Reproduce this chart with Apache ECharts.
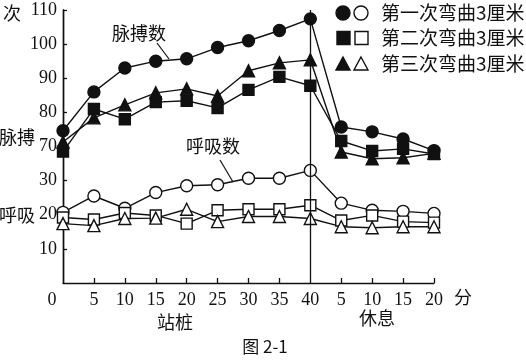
<!DOCTYPE html>
<html><head><meta charset="utf-8">
<script src="https://cdn.jsdelivr.net/npm/echarts@6/dist/echarts.min.js"></script>
<style>html,body{margin:0;padding:0;background:#fff}#c{width:526px;height:360px}</style>
</head><body><div id="c"></div>
<script>
const categories = ['0','5','10','15','20','25','30','35','40','r5','r10','r15','r20'];
const xTickLabels = ['0','5','10','15','20','25','30','35','40','5','10','15','20'];
const pulse1 = [74.6, 86, 93, 95, 95.7, 99, 101, 104, 107.4, 75.7, 74.3, 72.2, 68.8];
const pulse2 = [68.5, 81, 78, 83, 83.4, 81.3, 86.6, 90.4, 87.8, 71.6, 68.7, 69.3, 67.8];
const pulse3 = [71.3, 78.4, 82.2, 85.7, 86.9, 84.8, 92.2, 94.5, 95.4, 68.4, 66.4, 66.7, 68];
const resp1 = [20.7, 25.5, 21.9, 26.5, 28.5, 28.8, 30.7, 30.7, 33, 23.4, 21.3, 21, 20.4];
const resp2 = [19.2, 18.6, 20.5, 19.8, 17.4, 21.3, 21.6, 21.6, 22.8, 18.3, 19.8, 18, 17.7];
const resp3 = [17.4, 16.8, 18.9, 19, 21.6, 18, 19.5, 19.5, 18.9, 16.5, 16.2, 16.5, 16.5];
const respTicks = [10, 20, 30];
const pulseLabels = [70, 80, 90, 100, 110];
const pulseTicks = [80, 90, 100, 110];
const legendNames = ['第一次弯曲3厘米', '第二次弯曲3厘米', '第三次弯曲3厘米'];

const INK = '#111';
const NUM = '"Liberation Serif", "DejaVu Serif", serif';
const CJK = '"Noto Sans CJK SC", sans-serif';

function mk(name, data, symbol, filled, yIdx) {
  return {
    name: name, type: 'line', data: data, yAxisIndex: yIdx,
    symbol: symbol, symbolSize: symbol === 'triangle' ? 12 : (symbol === 'rect' ? 11 : 12),
    showSymbol: true,
    lineStyle: { color: INK, width: 1.4 },
    itemStyle: { color: filled ? INK : '#fff', borderColor: INK, borderWidth: 1.4 },
    z: 3, animation: false
  };
}

const chart = echarts.init(document.getElementById('c'), null, { renderer: 'canvas' });
const series = [
  mk('p1', pulse1, 'circle', true, 1),
  mk('p2', pulse2, 'rect', true, 1),
  mk('p3', pulse3, 'triangle', true, 1),
  mk('r1', resp1, 'circle', false, 0),
  mk('r2', resp2, 'rect', false, 0),
  mk('r3', resp3, 'triangle', false, 0)
];
series[0].markLine = {
  silent: true, symbol: 'none', label: { show: false },
  lineStyle: { color: INK, width: 1.3, type: 'solid' },
  data: [{ xAxis: '40' }], animation: false
};

function legendRow(y, shape, label) {
  const els = [];
  if (shape === 'circle') {
    els.push({ type: 'circle', shape: { cx: 343, cy: y, r: 7 }, style: { fill: INK, stroke: INK, lineWidth: 1.4 } });
    els.push({ type: 'circle', shape: { cx: 361, cy: y, r: 7 }, style: { fill: '#fff', stroke: INK, lineWidth: 1.4 } });
  } else if (shape === 'rect') {
    els.push({ type: 'rect', shape: { x: 337, y: y - 6.5, width: 13, height: 13 }, style: { fill: INK, stroke: INK, lineWidth: 1.4 } });
    els.push({ type: 'rect', shape: { x: 355, y: y - 6.5, width: 13, height: 13 }, style: { fill: '#fff', stroke: INK, lineWidth: 1.4 } });
  } else {
    els.push({ type: 'polygon', shape: { points: [[343, y - 7], [350, y + 6], [336, y + 6]] }, style: { fill: INK, stroke: INK, lineWidth: 1.4 } });
    els.push({ type: 'polygon', shape: { points: [[361, y - 7], [368, y + 6], [354, y + 6]] }, style: { fill: '#fff', stroke: INK, lineWidth: 1.4 } });
  }
  els.push({ type: 'text', x: 381, y: y, style: { text: label, font: '19px ' + CJK, fill: INK, textVerticalAlign: 'middle', textAlign: 'left' } });
  return els;
}

function txt(x, y, s, font, align) {
  return { type: 'text', x: x, y: y, style: { text: s, font: font, fill: INK, textAlign: align || 'center', textVerticalAlign: 'middle' } };
}

const graphics = [].concat(
  legendRow(13, 'circle', legendNames[0]),
  legendRow(38, 'rect', legendNames[1]),
  legendRow(64, 'triangle', legendNames[2]),
  [
    txt(12, 13, '次', '18px ' + CJK),
    txt(17, 137, '脉搏', '18px ' + CJK),
    txt(17, 215, '呼吸', '18px ' + CJK),
    txt(139, 33, '脉搏数', '18px ' + CJK),
    txt(213, 146, '呼吸数', '18px ' + CJK),
    txt(463, 297, '分', '18px ' + CJK),
    txt(175, 322, '站桩', '18px ' + CJK),
    txt(377, 318, '休息', '18px ' + CJK),
    txt(265, 347, '图 2-1', '17px ' + CJK),
    { type: 'line', shape: { x1: 157, y1: 43, x2: 169, y2: 59 }, style: { stroke: INK, lineWidth: 1.2 } },
    { type: 'line', shape: { x1: 220, y1: 160, x2: 233, y2: 182 }, style: { stroke: INK, lineWidth: 1.2 } }
  ]
);

chart.setOption({
  backgroundColor: '#fff',
  animation: false,
  grid: { left: 63, top: 10, width: 371, height: 273, containLabel: false },
  xAxis: {
    type: 'category', data: categories, boundaryGap: false,
    axisLine: { show: true, lineStyle: { color: INK, width: 1.4 } },
    axisTick: { show: true, inside: true, length: 5, lineStyle: { color: INK, width: 1.3 },
      customValues: [1,2,3,4,5,6,7,9,10,11,12] },
    axisLabel: {
      interval: 0, margin: 8, color: INK, fontFamily: NUM, fontSize: 18, hideOverlap: false,
      formatter: function (v, i) { return i === 0 ? '{z|0}' : xTickLabels[i]; },
      rich: { z: { fontFamily: NUM, fontSize: 18, color: INK, padding: [0, 22, 0, 0] } }
    },
    splitLine: { show: false }
  },
  yAxis: [
    {
      type: 'value', min: 0, max: 80, interval: 10, position: 'left',
      axisLine: { show: true, lineStyle: { color: INK, width: 1.4 } },
      axisTick: { show: true, inside: true, length: 4, lineStyle: { color: INK, width: 1.3 }, customValues: respTicks },
      axisLabel: { color: INK, fontFamily: NUM, fontSize: 18, margin: 6, customValues: respTicks },
      splitLine: { show: false }
    },
    {
      type: 'value', min: 30, max: 110, interval: 10, position: 'left',
      axisLine: { show: true, lineStyle: { color: INK, width: 1.4 } },
      axisTick: { show: true, inside: true, length: 4, lineStyle: { color: INK, width: 1.3 }, customValues: pulseTicks },
      axisLabel: { color: INK, fontFamily: NUM, fontSize: 18, margin: 6, customValues: pulseLabels },
      splitLine: { show: false }
    }
  ],
  series: series,
  graphic: graphics
});
</script></body></html>
